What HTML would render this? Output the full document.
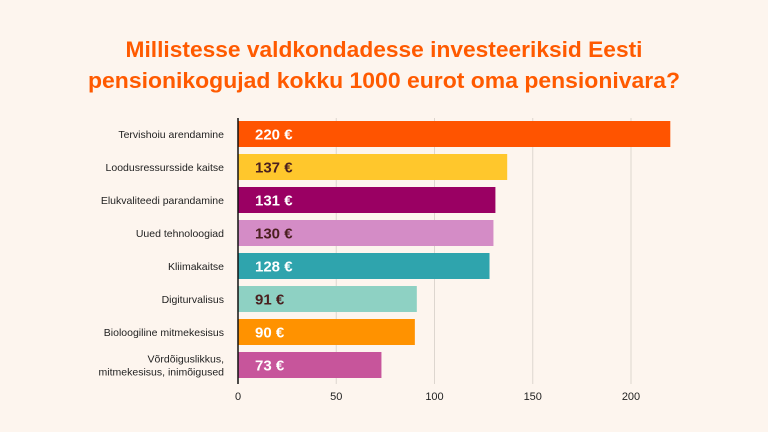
<!DOCTYPE html>
<html><head><meta charset="utf-8"><style>
body{margin:0;background:#fdf5ee;}
svg{display:block;font-family:"Liberation Sans",sans-serif;}
</style></head><body>
<svg id="chart" width="768" height="432">
<rect width="768" height="432" fill="#fdf5ee"/>
<text x="384" y="57" text-anchor="middle" font-size="22" font-weight="bold" fill="#ff5a00" textLength="517" lengthAdjust="spacingAndGlyphs">Millistesse valdkondadesse investeeriksid Eesti</text>
<text x="384" y="88" text-anchor="middle" font-size="22" font-weight="bold" fill="#ff5a00" textLength="592" lengthAdjust="spacingAndGlyphs">pensionikogujad kokku 1000 eurot oma pensionivara?</text>
<g id="grid"></g><g id="bars"></g><g id="axis"></g>
</svg>
<script>
const categories=[["Tervishoiu arendamine"],["Loodusressursside kaitse"],["Elukvaliteedi parandamine"],["Uued tehnoloogiad"],["Kliimakaitse"],["Digiturvalisus"],["Bioloogiline mitmekesisus"],["Võrdõiguslikkus,","mitmekesisus, inimõigused"]];
const values=[220,137,131,130,128,91,90,73];
const valueLabels=["220 €","137 €","131 €","130 €","128 €","91 €","90 €","73 €"];
const ticks=[0,50,100,150,200];
const colors=["#ff5400","#ffc72c","#9a0063","#d48cc6","#2fa4ad","#8ed1c3","#ff9200","#c7559b"];
const textColors=["#fff","#4a1f1f","#fff","#4a1f1f","#fff","#4a1f1f","#fff","#fff"];
const NS="http://www.w3.org/2000/svg";
const x=v=>238+v*1.965;
const yc=i=>134+i*33;
function mk(p,t,a){const e=document.createElementNS(NS,t);for(const k in a)e.setAttribute(k,a[k]);p.appendChild(e);return e;}
const grid=document.getElementById('grid'),bars=document.getElementById('bars'),axis=document.getElementById('axis');
ticks.forEach(t=>{
 if(t>0){const l=mk(grid,'line',{x1:x(t),x2:x(t),y1:118,y2:384,stroke:'#ddd6cf','stroke-width':1});
 
 }
 const tx=mk(axis,'text',{x:x(t),y:400,'text-anchor':'middle','font-size':11,fill:'#222'});
 tx.textContent=t;
 
 
});
values.forEach((v,i)=>{
 const r=mk(bars,'rect',{x:x(0),y:yc(i)-13,width:x(v)-x(0),height:26,fill:colors[i]});
 
 
 const vl=mk(bars,'text',{x:255,y:yc(i)+5.5,'font-size':15,'font-weight':'bold',fill:textColors[i]});
 vl.textContent=valueLabels[i];
 
 
 const lines=categories[i];
 const cl=mk(bars,'text',{x:224,y:0,'text-anchor':'end','font-size':10.5,fill:'#222'});
 
 
 lines.forEach((s,j)=>{const ts=mk(cl,'tspan',{x:224,y:yc(i)+4-(lines.length-1)*6.5+j*13});ts.textContent=s;});
});
const ax=mk(axis,'line',{x1:238,x2:238,y1:118,y2:384,stroke:'#111','stroke-width':1.5});


</script>
</body></html>
